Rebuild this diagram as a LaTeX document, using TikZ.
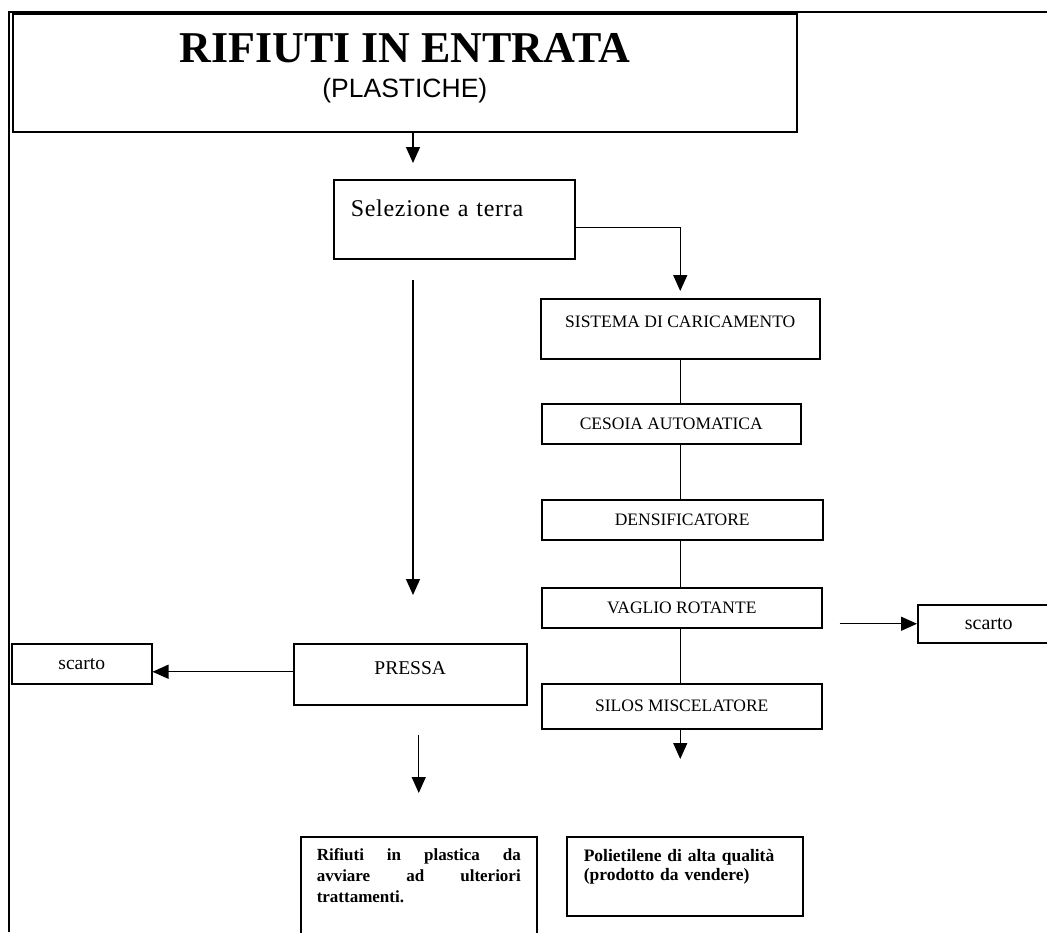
\documentclass[tikz,border=0pt]{standalone}
\usepackage{fontspec}
\setmainfont{Liberation Serif}
\newfontfamily\arialfont{Liberation Sans}
\usetikzlibrary{positioning,arrows.meta}

\tikzset{
  box/.style={draw, line width=1.5pt, inner sep=0pt, anchor=north west},
  flow/.style={-{Triangle[width=14pt,length=16pt]}, line width=1.4pt},
  plain/.style={line width=1.4pt},
  stage/.style={box, font=\fontsize{17.5}{20}\selectfont},
}

\begin{document}
\begin{tikzpicture}[x=1pt, y=-1pt]
    \useasboundingbox (0,0) rectangle (1047,932);
    % frame
    \draw[line width=2.8pt] (1047,12) -- (9,12) -- (9,932);
    % title
    \node[box, line width=1.6pt, minimum width=784pt, minimum height=118pt] (ttl) at (12,13) {};
    \node[inner sep=0pt, below=20pt of ttl.north, font=\fontsize{44}{48}\selectfont\bfseries] (ttlA) {RIFIUTI IN ENTRATA};
    \node[inner sep=0pt, below=15pt of ttlA, font=\fontsize{26.5}{30}\selectfont\arialfont] (ttlB) {(PLASTICHE)};
    % left branch
    \node[box, text width=207pt, inner xsep=17pt, text height=37pt, text depth=42pt, align=left,
          font=\fontsize{24}{26}\selectfont\addfontfeature{LetterSpace=3}] (sel) at (333,179) {Selezione a terra};
    \node[box, minimum width=233pt, text height=30.5pt, text depth=30.5pt,
          font=\fontsize{19.5}{22}\selectfont] (prs) at (293,643) {PRESSA};
    \node[box, minimum width=140pt, minimum height=40pt, font=\fontsize{19.5}{22}\selectfont] (scl) at (11,643) {scarto};
    \node[box, text width=204pt, inner xsep=16pt, text height=24pt, text depth=110pt, align=justify,
          font=\fontsize{17}{21}\selectfont\bfseries] (rif) at (300,836)
          {Rifiuti in plastica da\linebreak avviare ad ulteriori\linebreak trattamenti.};
    % right branch
    \node[stage, minimum width=279pt, text height=28.7pt, text depth=31.3pt] (sis) at (540,298) {SISTEMA DI CARICAMENTO};
    \node[stage, minimum width=259pt, minimum height=40pt] (ces) at (541,403) {CESOIA AUTOMATICA};
    \node[stage, minimum width=281pt, minimum height=40pt] (den) at (541,499) {DENSIFICATORE};
    \node[stage, minimum width=280pt, minimum height=40pt] (vag) at (541,587) {VAGLIO ROTANTE};
    \node[stage, minimum width=280pt, minimum height=45pt] (sil) at (541,683) {SILOS MISCELATORE};
    \node[box, minimum width=142pt, minimum height=38pt, font=\fontsize{20}{22}\selectfont] (scr) at (917,604) {scarto};
    \node[box, text width=202pt, inner xsep=17pt, text height=25pt, text depth=54pt, align=left,
          font=\fontsize{17.5}{19}\selectfont\bfseries] (pol) at (566,836)
          {Polietilene di alta qualità\\(prodotto da vendere)};
    % connectors
    \coordinate (a1) at (413,163);
    \draw[flow] (ttl.south -| a1) -- (a1);
    \draw[flow, shorten >=7pt] ([yshift=-8.5pt]sel.east) -| (sis.north);
    \draw[flow, shorten <=20pt, shorten >=48pt] (a1 |- sel.south) -- (a1 |- prs.north);
    \draw[flow] ([yshift=2.5pt]prs.west) -- ([yshift=2.5pt]prs.west -| scl.east);
    \draw[flow, shorten <=29pt, shorten >=43pt] (rif.north |- prs.south) -- (rif.north);
    \foreach \a/\b in {sis/ces, ces/den, den/vag, vag/sil}
        \draw[plain] (sis.south |- \a.south) -- (sis.south |- \b.north);
    \draw[flow, shorten <=17pt] (vag.east |- scr.west) -- (scr.west);
    \draw[flow, shorten >=77pt] (sis.south |- sil.south) -- (sis.south |- pol.north);
\end{tikzpicture}
\end{document}
